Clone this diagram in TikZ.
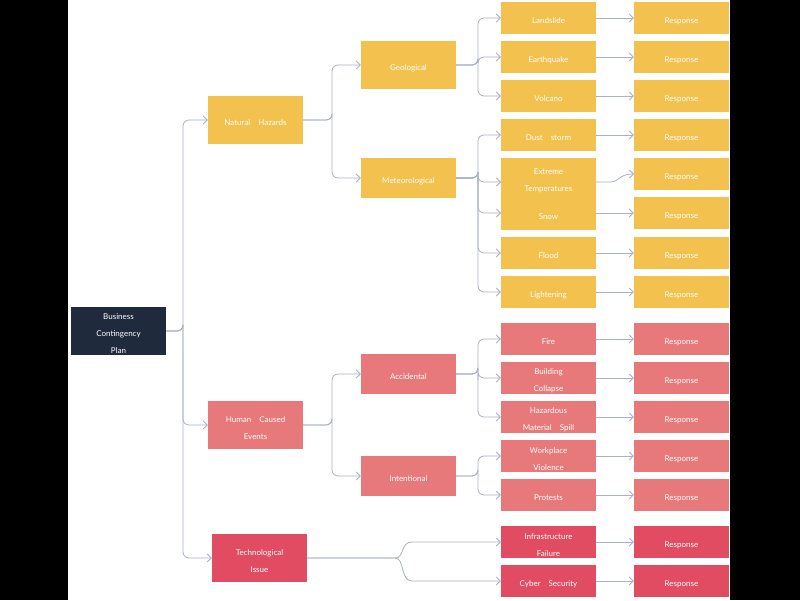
\documentclass[tikz,border=0pt]{standalone}
\usepackage{fontspec}
\setmainfont{Lato}
\usetikzlibrary{arrows.meta}
\definecolor{navy}{HTML}{1F2A3D}
\definecolor{yel}{HTML}{F2C14E}
\definecolor{sal}{HTML}{E8797A}
\definecolor{redc}{HTML}{E14C62}
\definecolor{lin}{HTML}{A9B1C6}
\begin{document}
\begin{tikzpicture}[x=1pt,y=-1pt,
  bx/.style={draw=none,inner sep=0,align=center,text=white,font=\fontsize{8}{17}\selectfont},
  cn/.style={draw=lin,line width=0.8pt,rounded corners=6pt,-{Straight Barb[length=4pt,width=8pt]}}]
\fill[black] (0,0) rectangle (800,600);
\fill[white] (68,0) rectangle (730,600);
\newcommand\bxx[7]{\node[bx,fill=#6,minimum width={(#4-#2)*1pt},minimum height={(#5-#3)*1pt}] (#1) at ({(#2+#4)/2},{(#3+#5)/2}) {}; \node[bx] at ({(#2+#4)/2},{(#3+#5)/2+3}) {#7};}
\bxx{bcp}{71}{307}{166}{355}{navy}{Business\\Contingency\\Plan}
\bxx{nat}{208}{96}{303}{144}{yel}{Natural\quad Hazards}
\bxx{hum}{208}{401}{303}{449}{sal}{Human\quad Caused\\Events}
\bxx{tec}{212}{534}{307}{582}{redc}{Technological\\Issue}
\bxx{geo}{361}{41}{456}{89}{yel}{Geological}
\bxx{met}{361}{158}{456}{198}{yel}{Meteorological}
\bxx{acc}{361}{354}{456}{394}{sal}{Accidental}
\bxx{int}{361}{456}{456}{496}{sal}{Intentional}
% level 3
\bxx{l1}{501}{2}{596}{34}{yel}{Landslide}
\bxx{l2}{501}{41}{596}{73}{yel}{Earthquake}
\bxx{l3}{501}{80}{596}{112}{yel}{Volcano}
\bxx{l4}{501}{119}{596}{151}{yel}{Dust\quad storm}
\bxx{l6}{501}{197}{596}{230}{yel}{Snow}
\bxx{l5}{501}{158}{596}{198}{yel}{Extreme\\Temperatures}
\bxx{l7}{501}{237}{596}{269}{yel}{Flood}
\bxx{l8}{501}{276}{596}{308}{yel}{Lightening}
\bxx{l9}{501}{323}{596}{355}{sal}{Fire}
\bxx{l10}{501}{362}{596}{394}{sal}{Building\\Collapse}
\bxx{l11}{501}{401}{596}{433}{sal}{Hazardous\\Material\quad Spill}
\bxx{l12}{501}{440}{596}{472}{sal}{Workplace\\Violence}
\bxx{l13}{501}{479}{596}{511}{sal}{Protests}
\bxx{l14}{501}{526}{596}{558}{redc}{Infrastructure\\Failure}
\bxx{l15}{501}{565}{596}{597}{redc}{Cyber\quad Security}
% responses
\bxx{r1}{634}{2}{729}{34}{yel}{Response}
\bxx{r2}{634}{41}{729}{73}{yel}{Response}
\bxx{r3}{634}{80}{729}{112}{yel}{Response}
\bxx{r4}{634}{119}{729}{151}{yel}{Response}
\bxx{r5}{634}{158}{729}{190}{yel}{Response}
\bxx{r6}{634}{197}{729}{229}{yel}{Response}
\bxx{r7}{634}{237}{729}{269}{yel}{Response}
\bxx{r8}{634}{276}{729}{308}{yel}{Response}
\bxx{r9}{634}{323}{729}{355}{sal}{Response}
\bxx{r10}{634}{362}{729}{394}{sal}{Response}
\bxx{r11}{634}{401}{729}{433}{sal}{Response}
\bxx{r12}{634}{440}{729}{472}{sal}{Response}
\bxx{r13}{634}{479}{729}{511}{sal}{Response}
\bxx{r14}{634}{526}{729}{558}{redc}{Response}
\bxx{r15}{634}{565}{729}{597}{redc}{Response}
% connectors
\foreach \c in {nat,hum,tec}{\draw[cn] (bcp.east) -| (183,331) |- (\c.west);}
\draw[cn] (nat.east) -| (332,120) |- (geo.west);
\draw[cn] (nat.east) -| (332,120) |- (met.west);
\draw[cn] (hum.east) -| (332,425) |- (acc.west);
\draw[cn] (hum.east) -| (332,425) |- (int.west);
\foreach \c in {l1,l2,l3}{\draw[cn] (geo.east) -| (478,65) |- (\c.west);}
\draw[cn] (met.east) -| (478,178) |- (501,182);
\draw[cn] (met.east) -| (478,178) |- (501,213);
\foreach \c in {l4,l7,l8}{\draw[cn] (met.east) -| (478,178) |- (\c.west);}
\foreach \c in {l9,l10,l11}{\draw[cn] (acc.east) -| (478,374) |- (\c.west);}
\foreach \c in {l12,l13}{\draw[cn] (int.east) -| (478,476) |- (\c.west);}
\draw[cn,rounded corners=0] (tec.east) -- (395,558) .. controls (405,558) and (400,542) .. (412,542) -- (l14.west);
\draw[cn,rounded corners=0] (tec.east) -- (395,558) .. controls (405,558) and (400,581) .. (412,581) -- (l15.west);
\foreach \i in {1,2,3,4,7,8,9,10,11,12,13,14,15}{\draw[cn] (l\i.east) -- (r\i.west);}
\draw[cn,rounded corners=0] (596,182) -- (610,182) .. controls (620,182) and (618,174) .. (634,174);
\draw[cn] (596,213) -- (r6.west);
\end{tikzpicture}
\end{document}
